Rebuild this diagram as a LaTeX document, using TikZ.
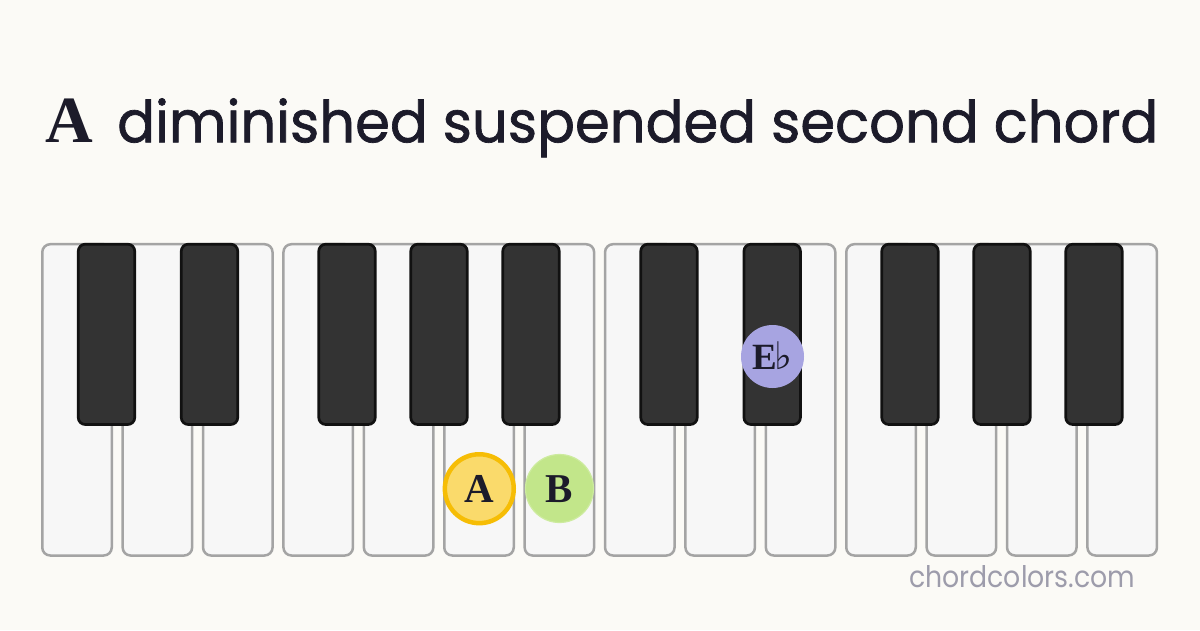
\documentclass[tikz,border=0pt]{standalone}
\usepackage{fontspec}
\usepackage{graphicx}
\setmainfont{Liberation Serif}
\newfontfamily\titlefont[FakeBold=1.2]{Poppins}
\newfontfamily\footfont{Poppins}
\newfontfamily\symfont{DejaVu Sans}
\definecolor{bg}{HTML}{FBFAF6}
\definecolor{wkfill}{HTML}{F7F7F7}
\definecolor{wkline}{HTML}{A4A4A4}
\definecolor{bkfill}{HTML}{333333}
\definecolor{bkline}{HTML}{111111}
\definecolor{ink}{HTML}{1C1B2A}
\definecolor{footcol}{HTML}{9D9CAB}
\definecolor{afill}{HTML}{FADA6B}
\definecolor{aline}{HTML}{F6BD05}
\definecolor{bfill}{HTML}{C2E68A}
\definecolor{bline}{HTML}{CDEB9F}
\definecolor{efill}{HTML}{A7A4E1}
\tikzset{
  whitekey/.style={draw=wkline, fill=wkfill, line width=2.5pt, rounded corners=8pt},
  blackkey/.style={draw=bkline, fill=bkfill, line width=2.7pt, rounded corners=7pt},
  notelabel/.style={anchor=base, inner sep=0pt, text=ink, font=\fontsize{41}{41}\selectfont\bfseries},
  txt/.style={anchor=base west, inner sep=0pt}
}
\begin{document}
\begin{tikzpicture}[x=1pt,y=-1pt]
\fill[bg] (0,0) rectangle (1200,630);
\useasboundingbox (0,0) rectangle (1200,630);
% white keys
\foreach \i in {0,...,13}
  \draw[whitekey] ({42.25+\i*80.4},244.2) rectangle ++(69.5,311.3);
% black keys
\foreach \c in {106.5,209.5,347,439,531,669,772.2,910,1002,1094}
  \draw[blackkey] ({\c-28.25},244.2) rectangle ++(56.5,180.3);
% note markers
\node[circle, draw=aline, fill=afill, line width=4.5pt, minimum size=68.9pt, inner sep=0pt] (ca) at (479.3,488.7) {};
\node[circle, draw=bline, fill=bfill, line width=1.2pt, minimum size=68pt, inner sep=0pt] (cb) at (559.5,488.5) {};
\node[circle, fill=efill, minimum size=63pt, inner sep=0pt] (ce) at (772.5,356.5) {};
\node[notelabel] (la) at (479.3,502.3) {A};
\node[notelabel] (lb) at (559.5,502.3) {B};
\node[notelabel, font=\fontsize{37}{37}\selectfont\bfseries] (le) at (772.5,369.3) {E\kern-2pt{\symfont\fontsize{38}{38}\selectfont ♭}};
% title
\node[txt, text=ink, font=\fontsize{66}{66}\selectfont\bfseries] (tA) at (45,142) {A};
\node[txt, text=ink] (title) at (117,142.3) {\resizebox{1041pt}{44pt}{\titlefont diminished suspended second chord}};
% footer
\node[txt, text=footcol] (foot) at (909,587.3) {\resizebox{226pt}{22pt}{\footfont chordcolors.com}};
\end{tikzpicture}
\end{document}
